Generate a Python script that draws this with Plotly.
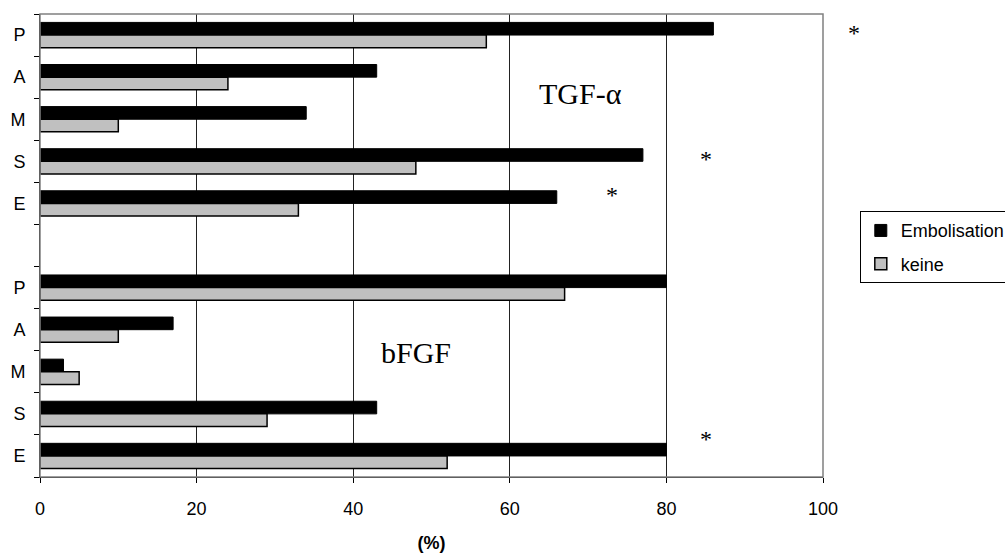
import plotly.graph_objects as go

categories = ["P", "A", "M", "S", "E", "", "P", "A", "M", "S", "E"]
embolisation = [86, 43, 34, 77, 66, None, 80, 17, 3, 43, 80]
keine = [57, 24, 10, 48, 33, None, 67, 10, 5, 29, 52]
x_ticks = [0, 20, 40, 60, 80, 100]

ypos = list(range(len(categories)))

fig = go.Figure()
fig.add_trace(go.Bar(
    name="Embolisation", y=ypos, x=embolisation, orientation="h", legendgroup="a",
    marker=dict(color="black", line=dict(color="black", width=1)),
))
fig.add_trace(go.Bar(
    name="keine", y=ypos, x=keine, orientation="h", legendgroup="b",
    marker=dict(color="#c0c0c0", line=dict(color="black", width=1.5)),
))

fig.update_layout(
    width=1005, height=556,
    margin=dict(l=40, r=182, t=14, b=79, autoexpand=False),
    paper_bgcolor="white", plot_bgcolor="white",
    barmode="group", bargap=0.4, bargroupgap=0,
    font=dict(family="Arial, Liberation Sans", size=18, color="black"),
    showlegend=True,
    legend=dict(
        x=1.047, y=0.574, xanchor="left", yanchor="top",
        bordercolor="black", borderwidth=1, bgcolor="white",
        font=dict(size=18), tracegroupgap=7, itemwidth=30,
    ),
    xaxis=dict(
        range=[0, 100], tickvals=x_ticks, ticktext=[str(v) for v in x_ticks],
        showgrid=True, gridcolor="#222222", gridwidth=1,
        showline=True, linecolor="black", linewidth=1,
        ticks="outside", ticklen=5, tickcolor="black", ticklabelstandoff=10,
        zeroline=False, fixedrange=True,
        title=dict(text="<b>(%)</b>", font=dict(size=18), standoff=18),
    ),
    yaxis=dict(
        range=[10.5, -0.5], tickvals=ypos, ticktext=categories,
        showgrid=False, zeroline=False,
        showline=True, linecolor="black", linewidth=1,
        ticks="", ticklabelstandoff=10,
        minor=dict(tickvals=[i - 0.5 for i in range(len(categories) + 1)],
                   ticks="outside", ticklen=5, tickcolor="black", showgrid=False),
    ),
)

fig.add_shape(type="rect", xref="paper", yref="paper", x0=0, y0=0, x1=1, y1=1,
              line=dict(color="#808080", width=1.5), layer="above")

fig.add_annotation(x=69, y=1.38, text="TGF-α", showarrow=False,
                   font=dict(family="Liberation Serif, Times New Roman", size=30))
fig.add_annotation(x=48, y=7.55, text="bFGF", showarrow=False,
                   font=dict(family="Liberation Serif, Times New Roman", size=30))
star_font = dict(family="Liberation Serif, Times New Roman", size=24)
fig.add_annotation(x=1.05, y=-0.05, xref="paper", yref="y", text="*",
                   showarrow=False, font=star_font)
for xv, yv in [(85, 2.95), (73, 3.8), (85, 9.6)]:
    fig.add_annotation(x=xv, y=yv, text="*", showarrow=False, xref="x", yref="y",
                       font=star_font)

fig.write_html("out.html")
